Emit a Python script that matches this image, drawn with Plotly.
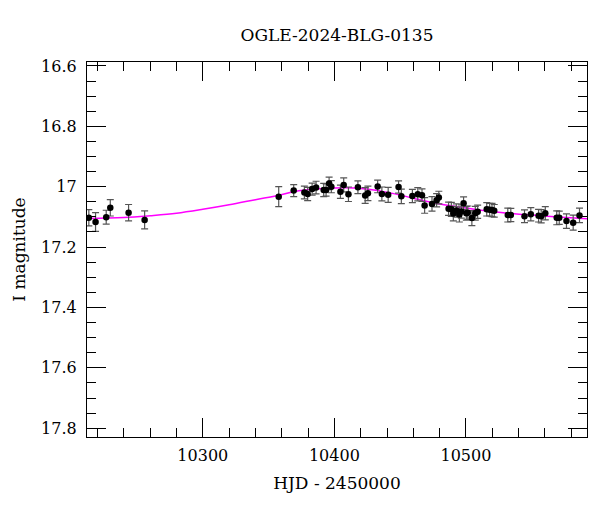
import plotly.graph_objects as go

# photometry (HJD - 2450000, I mag, error)
hjd = [10213.4, 10218.5, 10226.6, 10229.7, 10243.6, 10255.8, 10357.7, 10369.1,
       10377.2, 10379.7, 10383.1, 10386.1, 10391.9, 10393.7, 10396.0, 10397.7,
       10404.6, 10407.1, 10410.7, 10417.9, 10423.4, 10425.5, 10432.9, 10436.1,
       10440.9, 10448.8, 10450.9, 10459.3, 10463.4, 10466.6, 10468.6, 10474.2,
       10477.7, 10479.4, 10486.8, 10488.9, 10490.4, 10492.7, 10495.0, 10496.5,
       10498.2, 10500.3, 10501.4, 10504.5, 10507.1, 10508.9, 10515.8, 10518.0,
       10519.8, 10521.5, 10531.8, 10534.1, 10544.5, 10549.3, 10555.2, 10557.2,
       10560.3, 10569.0, 10570.9, 10576.4, 10581.5, 10586.3]
mag = [17.103, 17.117, 17.101, 17.070, 17.086, 17.110, 17.033, 17.013,
       17.019, 17.024, 17.008, 17.003, 17.011, 17.011, 16.989, 17.000,
       17.017, 16.994, 17.025, 17.002, 17.029, 17.022, 16.999, 17.024,
       17.027, 17.001, 17.032, 17.031, 17.025, 17.028, 17.062, 17.057,
       17.045, 17.036, 17.073, 17.075, 17.089, 17.079, 17.092, 17.082,
       17.055, 17.088, 17.086, 17.104, 17.088, 17.083, 17.075, 17.076,
       17.077, 17.080, 17.094, 17.094, 17.098, 17.091, 17.096, 17.098,
       17.088, 17.103, 17.103, 17.114, 17.119, 17.095]
err = [0.027, 0.031, 0.023, 0.027, 0.027, 0.030, 0.033, 0.020,
       0.021, 0.022, 0.020, 0.021, 0.022, 0.020, 0.021, 0.020,
       0.022, 0.023, 0.024, 0.021, 0.026, 0.024, 0.021, 0.023,
       0.025, 0.020, 0.024, 0.022, 0.022, 0.021, 0.026, 0.024,
       0.022, 0.021, 0.022, 0.023, 0.024, 0.022, 0.025, 0.022,
       0.021, 0.023, 0.022, 0.025, 0.023, 0.022, 0.022, 0.021,
       0.022, 0.021, 0.023, 0.022, 0.021, 0.022, 0.021, 0.022,
       0.022, 0.023, 0.022, 0.024, 0.025, 0.024]

# model curve
model_hjd = [10212, 10240, 10260, 10280, 10300, 10320, 10340, 10358, 10370, 10385,
             10400, 10415, 10430, 10445, 10460, 10475, 10490, 10510, 10530, 10550,
             10570, 10592]
model_mag = [17.105, 17.102, 17.096, 17.088, 17.075, 17.060, 17.043, 17.028, 17.016, 17.008,
             17.004, 17.004, 17.011, 17.023, 17.038, 17.053, 17.064, 17.077, 17.087, 17.094,
             17.100, 17.106]

font = "DejaVu Serif"

# page body has an 8px margin, so the figure is a bit smaller than the window
W, H = 592, 504

fig = go.Figure()

fig.add_trace(go.Scatter(
    x=model_hjd, y=model_mag, mode="lines",
    line=dict(color="#ff00ff", width=1.5, shape="spline"),
    showlegend=False, hoverinfo="skip"
))

fig.add_trace(go.Scatter(
    x=hjd, y=mag, mode="markers",
    marker=dict(color="black", size=6.5),
    error_y=dict(type="data", array=err, color="#555555", thickness=1.2, width=3.5),
    showlegend=False
))

axis_common = dict(
    showgrid=False, zeroline=False, automargin=False,
    showline=True, linecolor="black", linewidth=1.3, mirror="allticks",
    ticks="inside", ticklen=19, tickwidth=1, tickcolor="black",
    tickfont=dict(family=font, size=16, color="black"),
)

fig.update_xaxes(
    range=[10212, 10592], tick0=10300, dtick=100, tickformat="d",
    minor=dict(ticks="inside", ticklen=9, dtick=20, tick0=10300, tickcolor="black", tickwidth=1),
    title=dict(text="HJD - 2450000", font=dict(family=font, size=17, color="black"), standoff=12),
    ticklabelstandoff=4,
    **axis_common
)

fig.update_yaxes(
    range=[17.829, 16.587], tick0=16.6, dtick=0.2,
    minor=dict(ticks="inside", ticklen=9, dtick=0.05, tick0=16.6, tickcolor="black", tickwidth=1),
    title=dict(text="I magnitude", font=dict(family=font, size=17, color="black"), standoff=11),
    ticklabelstandoff=6,
    **axis_common
)

fig.update_layout(
    width=W, height=H,
    margin=dict(l=79, r=13, t=54, b=75),
    paper_bgcolor="white", plot_bgcolor="white",
    title=dict(text="OGLE-2024-BLG-0135", x=0.5, xref="paper", y=1 - 27 / H,
               yanchor="middle", font=dict(family=font, size=17, color="black")),
)

fig.write_html("out.html")
